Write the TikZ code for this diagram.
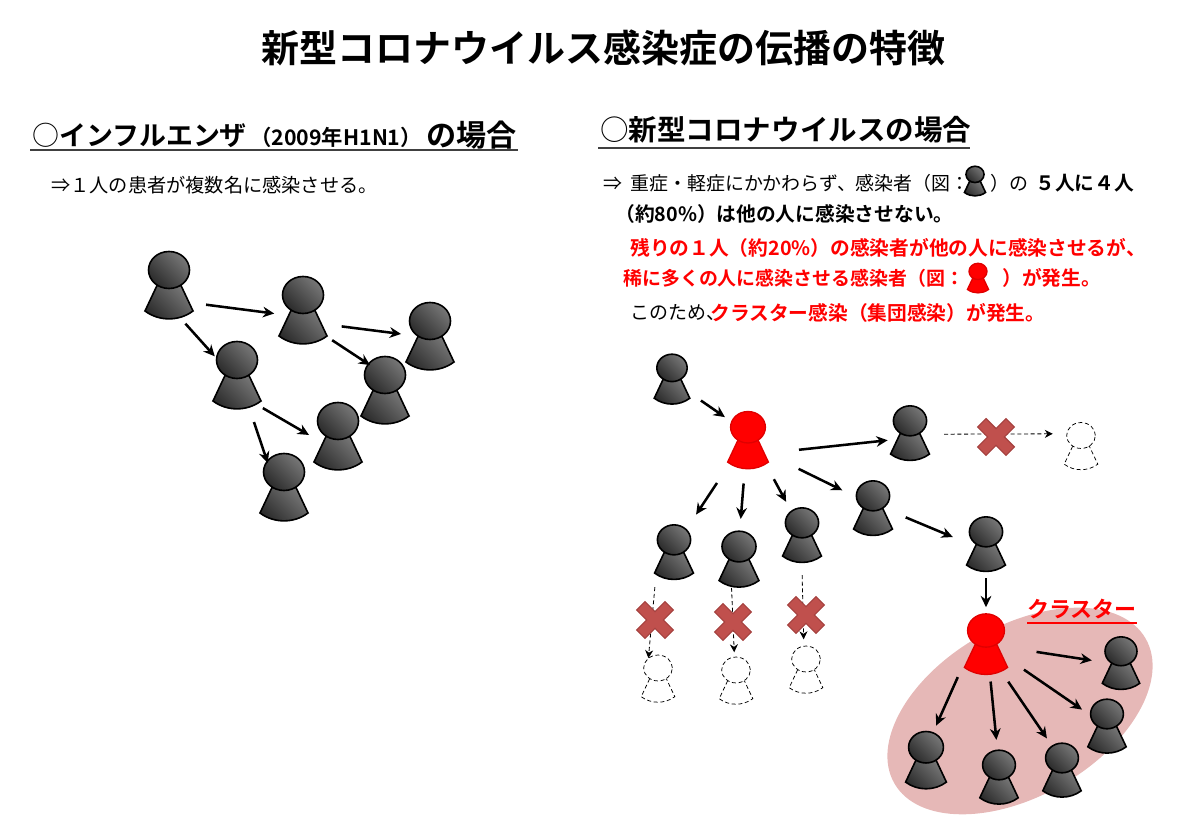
\documentclass[tikz,border=0pt]{standalone}
\usepackage{fontspec}
\setmainfont{Noto Sans CJK JP}[BoldFont=* Bold]
\usetikzlibrary{arrows.meta,positioning,calc}

\definecolor{personlight}{HTML}{777777}
\definecolor{persondark}{HTML}{2B2B2B}
\definecolor{clusterpink}{HTML}{E6B8B7}
\definecolor{crossred}{HTML}{C0504D}
\definecolor{crossedge}{HTML}{A5413E}
\definecolor{rulegray}{HTML}{404040}

\tikzset{
  darkpart/.style={draw=black,line width=1.2pt,top color=personlight,bottom color=persondark,shading angle=-45},
  redpart/.style={draw=red!88!black,line width=1pt,fill=red},
  emptypart/.style={draw=black,line width=.55pt,densely dashed,fill=white},
  personpart/.style={darkpart},
  redperson/.style={personpart/.style={redpart}},
  emptyperson/.style={personpart/.style={emptypart}},
  personhit/.style={circle,inner sep=0pt,outer sep=0pt,transform shape},
  person/.pic={
    \draw[personpart] (-12,-.5) -- (-24,-26) .. controls (-10,-36.5) and (10,-36.5) .. (24,-26) -- (12,-.5) -- cycle;
    \draw[personpart] (0,15) ellipse (20.5 and 18.5);
    \node[personhit,minimum size=63pt] (-o) at (0,0) {};
    \node[personhit,minimum size=43.5pt] (-i) at (0,0) {};
  },
  crossmark/.pic={
    \draw[rotate=45,draw=crossedge,fill=crossred,line width=.8pt] (-6,-20) -- (6,-20) -- (6,-6) -- (20,-6) -- (20,6) -- (6,6) -- (6,20) -- (-6,20) -- (-6,6) -- (-20,6) -- (-20,-6) -- (-6,-6) -- cycle;
  },
  arrow/.style={-{Stealth[length=8.5pt,width=8pt]},line width=1.9pt},
  dasharrow/.style={-{Stealth[length=6pt,width=6pt]},line width=.6pt,densely dashed},
  titletext/.style={font=\fontsize{28.5pt}{32pt}\selectfont\bfseries},
  headtext/.style={anchor=west,inner sep=0pt,font=\fontsize{21.4pt}{25pt}\selectfont\bfseries},
  bodytext/.style={anchor=west,inner sep=0pt,font=\fontsize{14.2pt}{16pt}\selectfont},
  boldtext/.style={anchor=west,inner sep=0pt,font=\fontsize{14.8pt}{17pt}\selectfont\bfseries},
  redtext/.style={boldtext,text=red},
  headrule/.style={draw=rulegray,line width=1.1pt},
}

\begin{document}
\begin{tikzpicture}[x=.75pt,y=.75pt]
\useasboundingbox (0,-837) rectangle (1200,0);

% title and headings
\node[titletext] (title) at (603,-48) {新型コロナウイルス感染症の伝播の特徴};

\node[headtext,font=\fontsize{20.2pt}{25pt}\selectfont\bfseries] (headflu) at (32,-135) {{\mdseries ○}インフルエンザ};
\node[headtext,font=\fontsize{16pt}{19pt}\selectfont\bfseries] (headyear) at (250,-137) {（2009年H1N1）};
\node[headtext,font=\fontsize{22.6pt}{26pt}\selectfont\bfseries] (headfluend) at (426,-135) {の場合};
\coordinate (rulefluA) at (30,-150);
\coordinate (rulefluB) at (518,-150);
\draw[headrule] (rulefluA) -- (rulefluB);

\node[headtext] (headcov) at (600,-130) {{\mdseries ○}新型コロナウイルスの場合};
\coordinate (rulecovA) at (598,-148);
\coordinate (rulecovB) at (970,-148);
\draw[headrule] (rulecovA) -- (rulecovB);

% text lines
\node[bodytext,font=\fontsize{14.4pt}{16pt}\selectfont] (fluline) at (51,-185) {⇒１人の患者が複数名に感染させる。};

\node[bodytext] (lineA) at (603,-183) {⇒\hspace{3pt} 重症・軽症にかかわらず、感染者（図：};
\node[bodytext] (lineAb) at (990,-183) {）の};
\node[boldtext] (lineAc) at (1035,-183) {５人に４人};
\node[boldtext] (lineB) at (615,-214) {（約80\%）は他の人に感染させない。};
\node[redtext] (lineC) at (630,-248) {残りの１人（約20\%）の感染者が他の人に感染させるが、};
\node[redtext,font=\fontsize{14.2pt}{17pt}\selectfont\bfseries] (lineD) at (623,-278) {稀に多くの人に感染させる感染者（図：};
\node[redtext] (lineDb) at (1002,-278) {）が発生。};
\node[bodytext] (lineE) at (630,-313) {このため、};
\node[redtext] (lineEb) at (710,-313) {クラスター感染（集団感染）が発生。};

\pic[scale=.44] (keydark) at (975,-181) {person};
\pic[redperson,scale=.44] (keyred) at (978,-278) {person};

% influenza side
\pic (pa) at (169,-285) {person};
\pic (pb) at (303,-310) {person};
\pic (pc) at (430,-336) {person};
\pic (pd) at (385,-390) {person};
\pic (pe) at (237,-375) {person};
\pic (pf) at (338,-436) {person};
\pic (pg) at (284,-487) {person};

\draw[arrow] (pa-o.-28) -- (pb-i.187);
\draw[arrow] (pa-o.-67) -- (pe-i.140);
\draw[arrow] (pb-o.-23) -- (pc-i.176);
\draw[arrow] (pb-o.-46) -- (pd-i.121);
\draw[arrow] (pe-o.-52) -- (pf-i.178);
\draw[arrow,shorten <=6pt] (pe-o.-70) -- (pg-i.124);

% cluster background
\fill[clusterpink,rotate around={30:(1020,-711)}] (1020,-711) ellipse (145 and 85);
\node[anchor=center,inner sep=0pt,text=red,font=\fontsize{16.5pt}{20pt}\selectfont\bfseries] (clusterlabel) at (1082,-609) {クラスター};
\coordinate (clusterA) at (1027,-623);
\coordinate (clusterB) at (1137,-623);
\draw[red,line width=1pt] (clusterA) -- (clusterB);

% corona side
\pic[scale=.74] (qa) at (672,-379) {person};
\pic[redperson,scale=.85] (spreadA) at (748,-440) {person};
\pic[scale=.81] (qb) at (910,-433) {person};
\pic[scale=.81] (qc) at (873,-508) {person};
\pic[scale=.81] (qd) at (674,-552) {person};
\pic[scale=.83] (qe) at (739,-559) {person};
\pic[scale=.81] (qf) at (802,-535) {person};
\pic[scale=.81] (qg) at (986,-544) {person};
\pic[redperson,scale=.9] (spreadB) at (986,-644) {person};
\pic[scale=.78] (ca) at (1121,-663) {person};
\pic[scale=.8] (cb) at (1107,-726) {person};
\pic[scale=.8] (cc) at (1062,-770) {person};
\pic[scale=.8] (cd) at (999,-777) {person};
\pic[scale=.85] (ce) at (926,-760) {person};

\pic[emptyperson,scale=.7] (na) at (658,-678.5) {person};
\pic[emptyperson,scale=.7] (nb) at (736,-680.5) {person};
\pic[emptyperson,scale=.7] (nc) at (806,-669.5) {person};
\pic[emptyperson,scale=.7] (nd) at (1081,-446) {person};

\draw[arrow,shorten <=3.75pt,shorten >=6pt] (qa-o.-37) -- (spreadA-i.132);
\draw[arrow,shorten <=13pt] (spreadA-o.-19) -- (qb-i.198);
\draw[arrow,shorten <=17pt,shorten >=9pt] (spreadA-o.-32) -- (qc-i.148);
\draw[arrow,shorten <=13pt,shorten >=15pt] (spreadA-o.233) -- (qd-i.62);
\draw[arrow,shorten <=6pt,shorten >=12pt] (spreadA-o.-96) -- (qe-i.89);
\draw[arrow,shorten <=8.5pt,shorten >=10pt] (spreadA-o.-55) -- (qf-i.114);
\draw[arrow,shorten >=8pt] (qc-o.-16) -- (qg-i.173);
\draw[arrow,shorten >=8pt] (qg-o.-90) -- (spreadB-i.90);
\draw[arrow,shorten <=10pt,shorten >=5pt] (spreadB-o.-9) -- (ca-i.176);
\draw[arrow,shorten <=6pt,shorten >=5pt] (spreadB-o.-34) -- (cb-i.147);
\draw[arrow,shorten <=4.5pt,shorten >=9pt] (spreadB-o.-60) -- (cc-i.111);
\draw[arrow,shorten >=10.5pt] (spreadB-o.-83) -- (cd-i.93);
\draw[arrow,shorten <=4.5pt,shorten >=8.5pt] (spreadB-o.227) -- (ce-i.77);

\draw[dasharrow,shorten <=5pt,shorten >=2pt] (qd-o.237) -- (na-i.119);
\draw[dasharrow,shorten <=-4pt,shorten >=6pt] (qe-o.-102) -- (nb-i.94);
\draw[dasharrow,shorten <=4.5pt,shorten >=7.5pt] (qf-o.-90) -- (nc-i.96);
\draw[dasharrow,shorten >=9pt] (qb-o.-2) -- (nd-i.143);

\pic at (655,-620) {crossmark};
\pic at (733,-622) {crossmark};
\pic at (806,-615) {crossmark};
\pic at (996,-437) {crossmark};
\end{tikzpicture}
\end{document}
